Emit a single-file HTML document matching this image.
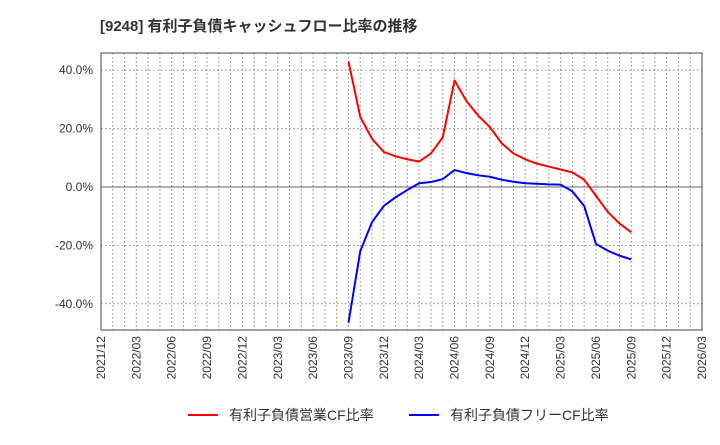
<!DOCTYPE html>
<html><head><meta charset="utf-8">
<style>
body{margin:0;background:#fff;font-family:"Liberation Sans","Noto Sans CJK JP",sans-serif;}
svg text{font-family:"Liberation Sans","Noto Sans CJK JP",sans-serif;}
</style></head>
<body>
<svg id="chart" width="720" height="440" xmlns="http://www.w3.org/2000/svg">
<text x="100" y="31" font-size="15" font-weight="bold" fill="#333">[9248]  有利子負債キャッシュフロー比率の推移</text>
<g id="grid"></g>
<g id="axes"></g>
<g id="series"></g>
<g id="legend"></g>
</svg>
<script>
const xTickLabels=["2021/12","2022/03","2022/06","2022/09","2022/12","2023/03","2023/06","2023/09","2023/12","2024/03","2024/06","2024/09","2024/12","2025/03","2025/06","2025/09","2025/12","2026/03"];
const yTicks=[-40,-20,0,20,40];
const startMonth=21; // months after 2021/12 of first data point (2023/09)
const redValues=[43,24,16.5,12,10.5,9.5,8.7,11.5,17,36.5,29.5,24.5,20.5,15,11.5,9.5,8,7,6,5,2.5,-3,-8.5,-12.5,-15.5];
const blueValues=[-46.5,-22,-12,-6.5,-3.5,-1,1.3,1.7,2.7,5.8,4.8,4,3.5,2.5,1.8,1.3,1.1,0.9,0.8,-1.5,-6.5,-19.5,-21.8,-23.5,-24.8];
const NS="http://www.w3.org/2000/svg";
const L=101,R=702,T=53,B=330,totalMonths=51;
const xs=m=>L+(R-L)*m/totalMonths;
const ys=v=>187-v*2.92;
function mk(tag,attrs,parent){const e=document.createElementNS(NS,tag);for(const k in attrs)e.setAttribute(k,attrs[k]);parent.appendChild(e);return e;}
const grid=document.getElementById('grid'),axes=document.getElementById('axes'),series=document.getElementById('series'),legend=document.getElementById('legend');
for(let m=1;m<totalMonths;m++){
  const l=mk('line',{x1:xs(m),x2:xs(m),y1:T,y2:B,stroke:'#888','stroke-dasharray':'1.5,2.5','stroke-width':1},grid);
  
  
}
yTicks.forEach(v=>{
  const l=mk('line',{x1:L,x2:R,y1:ys(v),y2:ys(v),stroke:v===0?'#666':'#888','stroke-dasharray':v===0?'':'1.5,2.5','stroke-width':1},grid);
  
  
  const t=mk('text',{x:L-8,y:ys(v)+4,'text-anchor':'end','font-size':12,fill:'#333'},axes);
  t.textContent=v.toFixed(1)+'%';
  
  
});
const frame=mk('rect',{x:L,y:T,width:R-L,height:B-T,fill:'none',stroke:'#444','stroke-width':1},axes);


xTickLabels.forEach((s,i)=>{
  const x=xs(i*3);
  const t=mk('text',{x:x+4,y:B+6,'text-anchor':'end','font-size':12,fill:'#333',transform:`rotate(-90 ${x+4} ${B+6})`},axes);
  t.textContent=s;
  
  
});
function line(vals,color,name){
  const pts=vals.map((v,i)=>xs(startMonth+i)+','+ys(v)).join(' ');
  const p=mk('polyline',{points:pts,fill:'none',stroke:color,'stroke-width':2,'stroke-linejoin':'round'},series);
  
  
}
line(redValues,'#ff0000','operating-cf-ratio-line');
line(blueValues,'#0000ff','free-cf-ratio-line');
function leg(x,color,label,name){
  const g=mk('g',{},legend);
  
  
  mk('line',{x1:x,x2:x+30,y1:415,y2:415,stroke:color,'stroke-width':2},g);
  const t=mk('text',{x:x+41,y:420,'font-size':14,fill:'#333'},g);
  t.textContent=label;
}
leg(188,'#ff0000','有利子負債営業CF比率','legend-operating-cf');
leg(409,'#0000ff','有利子負債フリーCF比率','legend-free-cf');
</script>
</body></html>
